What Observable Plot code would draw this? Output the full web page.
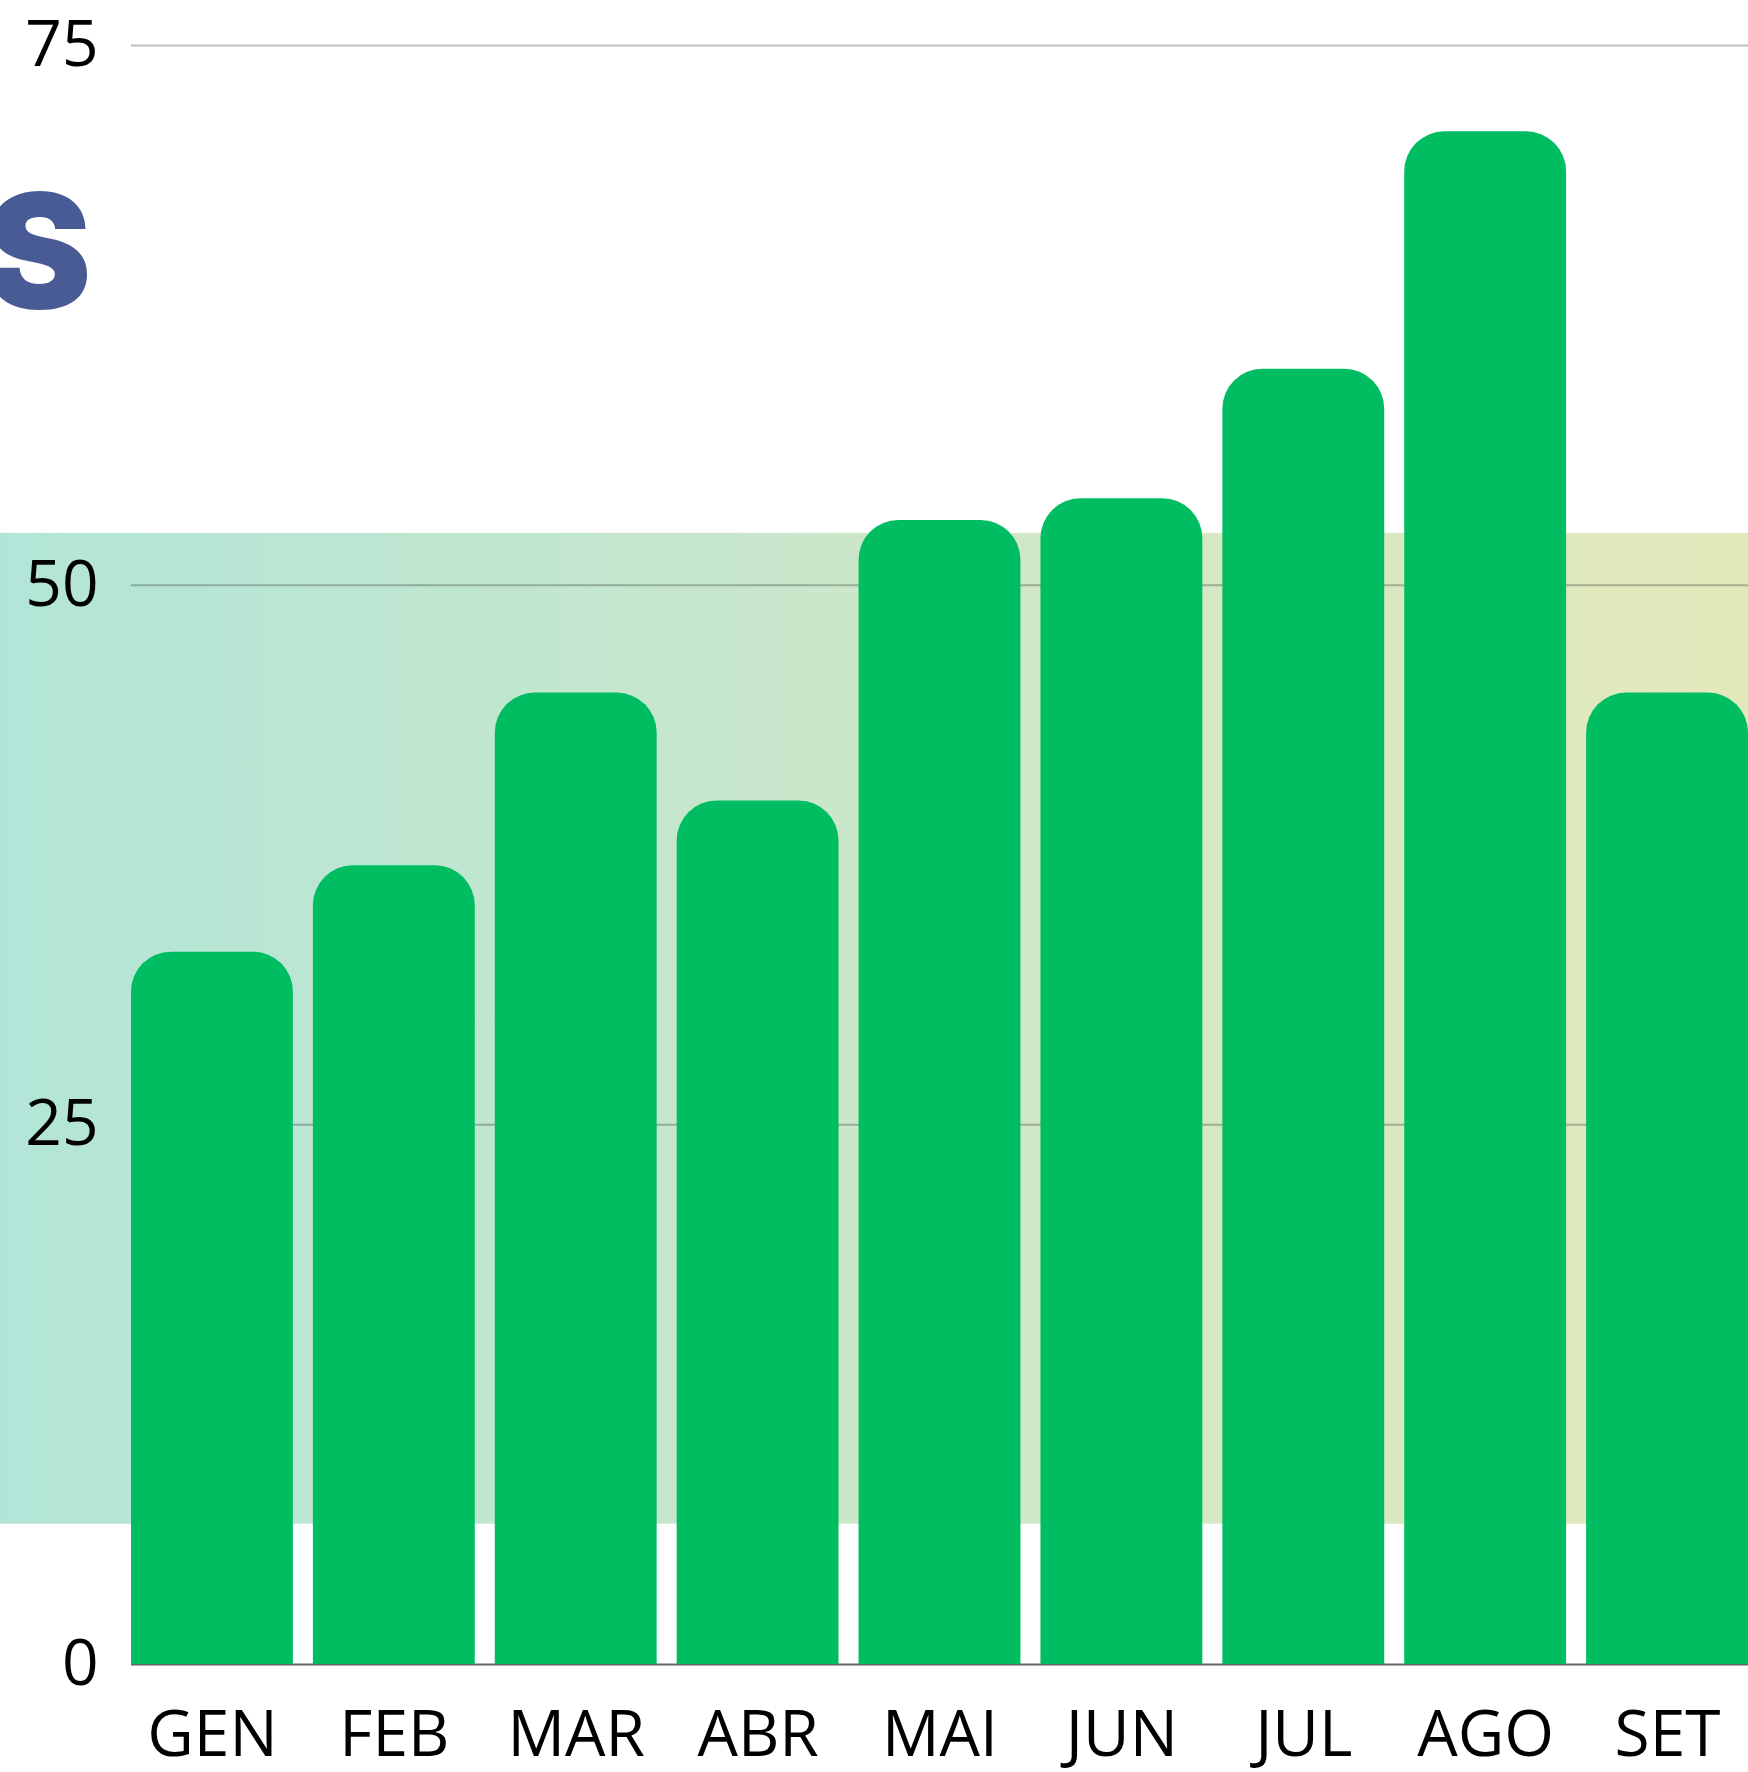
<!DOCTYPE html>
<html><head><meta charset="utf-8">
<script src="https://cdn.jsdelivr.net/npm/d3@7"></script>
<script src="https://cdn.jsdelivr.net/npm/@observablehq/plot@0.6"></script>
<style>
html,body{margin:0;padding:0;background:#fff;}
#wrap{position:relative;width:1748px;height:1772px;overflow:hidden;}
#chart{position:absolute;left:0;top:0;}
#title{position:absolute;left:-15px;top:171px;font-family:Inter,Roboto,sans-serif;font-weight:900;font-size:160px;color:#485b94;line-height:1;z-index:2;}
</style></head><body>
<div id="wrap"><div id="chart"></div><div id="title">S</div></div>
<script>
const months = ["GEN","FEB","MAR","ABR","MAI","JUN","JUL","AGO","SET"];
const values = [33,37,45,40,53,54,60,71,45];
const yTicks = [0,25,50,75];
const gridTicks = [25,50,75];
const bandRange = [6.5, 52.4];
const data = months.map((m,i)=>({month:m, value:values[i]}));

const defs = () => {
  const d = d3.create("svg:defs");
  const g = d.append("linearGradient").attr("id","bandGrad").attr("x1","0").attr("x2","1").attr("y1","0").attr("y2","0");
  g.append("stop").attr("offset","0%").attr("stop-color","#b2e5d8");
  g.append("stop").attr("offset","100%").attr("stop-color","#e4e9bb");
  return d.node();
};

const chart = Plot.plot({
  width:1748, height:1772, marginLeft:131, marginRight:0, marginTop:45, marginBottom:108,
  x:{domain:months, paddingInner:0.11, paddingOuter:0, round:false, label:null},
  y:{domain:[0,75], label:null},
  style:{fontFamily:"'Open Sans', sans-serif", fontSize:"64px", color:"#000", background:"transparent"},
  marks:[
    defs,
    Plot.rectY([bandRange], {y1: d=>d[0], y2: d=>d[1], fill:"url(#bandGrad)", insetLeft:-131}),
    Plot.gridY(gridTicks, {stroke:"#000", strokeOpacity:0.25, strokeWidth:2}),
    Plot.ruleY([0], {stroke:"#666", strokeWidth:2}),
    // bottom corners pushed below the baseline and clipped at the frame
    Plot.barY(data, {x:"month", y1: -3, y2:"value", fill:"#00bd62", rx:40, clip:true}),
    Plot.axisY(yTicks, {tickSize:0, tickPadding:33, fontSize:64}),
    Plot.axisX({tickSize:0, tickPadding:46, fontSize:64})
  ]
});
document.getElementById("chart").appendChild(chart);
</script>
</body></html>
